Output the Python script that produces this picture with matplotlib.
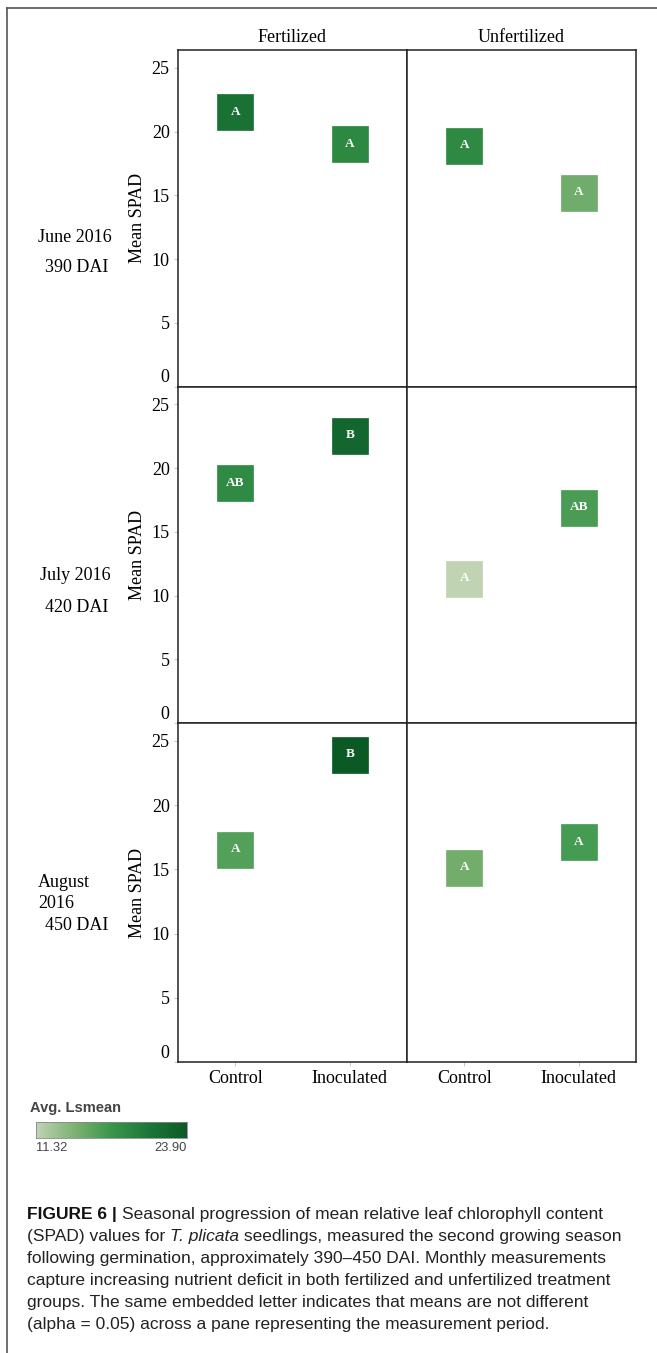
import matplotlib
matplotlib.use("Agg")
import matplotlib.pyplot as plt
from matplotlib.colors import LinearSegmentedColormap, Normalize
from matplotlib.lines import Line2D
import numpy as np

# ---------------- data ----------------
months = ["June 2016", "July 2016", "August\n2016"]
dai = ["390 DAI", "420 DAI", "450 DAI"]
treatments = ["Fertilized", "Unfertilized"]
groups = ["Control", "Inoculated"]

june_fert = [21.5, 19.0]
june_unfert = [18.9, 15.2]
july_fert = [18.8, 22.55]
july_unfert = [11.32, 16.9]
aug_fert = [16.5, 23.90]
aug_unfert = [15.1, 17.1]

june_fert_letters = ["A", "A"]
june_unfert_letters = ["A", "A"]
july_fert_letters = ["AB", "B"]
july_unfert_letters = ["A", "AB"]
aug_fert_letters = ["A", "B"]
aug_unfert_letters = ["A", "A"]

yticks = [0, 5, 10, 15, 20, 25]
cbar_min, cbar_max = 11.32, 23.90

values = [[june_fert, june_unfert], [july_fert, july_unfert], [aug_fert, aug_unfert]]
letters = [[june_fert_letters, june_unfert_letters],
           [july_fert_letters, july_unfert_letters],
           [aug_fert_letters, aug_unfert_letters]]

# ---------------- figure ----------------
W, H = 657, 1353
fig = plt.figure(figsize=(W / 100, H / 100), dpi=100)
serif = "Liberation Serif"
sans = "Liberation Sans"
FS = 13

cmap = LinearSegmentedColormap.from_list(
    "grn", ["#c0d4b4", "#7fb274", "#3a964a", "#1d7838", "#0b5a26"])
norm = Normalize(cbar_min, cbar_max)

def fx(px):
    return px / W

def fy(py):
    return 1 - py / H

col_x = [178, 407, 636]
row_y = [50, 386.5, 723, 1062]

for r in range(3):
    for c in range(2):
        ax = fig.add_axes([fx(col_x[c]), fy(row_y[r + 1]),
                           fx(col_x[c + 1] - col_x[c]), (row_y[r + 1] - row_y[r]) / H])
        vals = values[r][c]
        xs = np.arange(len(groups))
        for xi, v, lab in zip(xs, vals, letters[r][c]):
            ax.plot(xi, v, marker="s", ms=25.5, color=cmap(norm(v)),
                    mec=cmap(norm(v)), mew=0.5, ls="none", zorder=3)
            ax.text(xi, v + 0.05, lab, color="white", ha="center", va="center",
                    fontsize=9.5, fontweight="bold", family=serif, zorder=4)
        ax.set_xlim(-0.5, 1.5)
        ax.set_ylim(0, 26.4)
        for s in ax.spines.values():
            s.set_linewidth(1.1)
            s.set_color("#222222")
        ax.set_yticks(yticks)
        ax.set_xticks(xs)
        if c == 0:
            ax.tick_params(axis="y", length=3, width=0.6, color="#bbbbbb",
                           labelsize=FS, pad=3)
            for t in ax.get_yticklabels():
                t.set_fontfamily(serif)
            ax.get_yticklabels()[0].set_va("bottom")
            ax.set_ylabel("Mean SPAD", family=serif, fontsize=FS, labelpad=4)
        else:
            ax.tick_params(axis="y", left=False, labelleft=False)
        if r == 2:
            ax.set_xticklabels(groups, family=serif, fontsize=FS)
            ax.tick_params(axis="x", length=3, width=0.6, color="#bbbbbb", pad=3)
        else:
            ax.tick_params(axis="x", bottom=False, labelbottom=False)
        if r == 0:
            ax.set_title(treatments[c], family=serif, fontsize=FS, pad=6)

# row labels
fig.text(fx(75), fy(237), months[0], family=serif, fontsize=FS, ha="center", va="center")
fig.text(fx(77), fy(268), dai[0], family=serif, fontsize=FS, ha="center", va="center")
fig.text(fx(75), fy(575), months[1], family=serif, fontsize=FS, ha="center", va="center")
fig.text(fx(77), fy(607), dai[1], family=serif, fontsize=FS, ha="center", va="center")
fig.text(fx(38), fy(893), months[2], family=serif, fontsize=FS, ha="left", va="center",
         linespacing=1.25)
fig.text(fx(45), fy(925), dai[2], family=serif, fontsize=FS, ha="left", va="center")

# outer frame (left + top)
fig.add_artist(Line2D([fx(7), fx(7)], [fy(8), 0], transform=fig.transFigure,
                      color="#555555", lw=1.2))
fig.add_artist(Line2D([fx(7), 1], [fy(8), fy(8)], transform=fig.transFigure,
                      color="#555555", lw=1.2))

# colorbar
cax = fig.add_axes([fx(36), fy(1138), fx(187 - 36), 16 / H])
grad = np.linspace(cbar_min, cbar_max, 256).reshape(1, -1)
cax.imshow(grad, aspect="auto", cmap=cmap, norm=norm,
           extent=[cbar_min, cbar_max, 0, 1])
cax.set_xticks([])
cax.set_yticks([])
for s in cax.spines.values():
    s.set_color("#888888")
    s.set_linewidth(0.6)
fig.text(fx(30), fy(1108), "Avg. Lsmean", family=sans, fontsize=10.5, fontweight="bold",
         color="#444444", ha="left", va="center")
fig.text(fx(36), fy(1148), f"{cbar_min:.2f}", family=sans, fontsize=9.3,
         color="#444444", ha="left", va="center")
fig.text(fx(187), fy(1148), f"{cbar_max:.2f}", family=sans, fontsize=9.3,
         color="#444444", ha="right", va="center")

# caption
cap_fs = 12.5
renderer = fig.canvas.get_renderer()

def seg_line(x_px, y_px, segments):
    x = fx(x_px)
    for txt, style in segments:
        kw = dict(family=sans, fontsize=cap_fs, color="#222222", ha="left",
                  va="baseline")
        if style == "bold":
            kw["fontweight"] = "bold"
            kw["color"] = "#111111"
        if style == "italic":
            kw["fontstyle"] = "italic"
        t = fig.text(x, fy(y_px), txt, **kw)
        bb = t.get_window_extent(renderer=renderer)
        x = bb.x1 / W

cap_lines = [
    [("FIGURE 6 | ", "bold"), ("Seasonal progression of mean relative leaf chlorophyll content", "")],
    [("(SPAD) values for ", ""), ("T. plicata", "italic"), (" seedlings, measured the second growing season", "")],
    [("following germination, approximately 390\u2013450 DAI. Monthly measurements", "")],
    [("capture increasing nutrient deficit in both fertilized and unfertilized treatment", "")],
    [("groups. The same embedded letter indicates that means are not different", "")],
    [("(alpha = 0.05) across a pane representing the measurement period.", "")],
]
for i, segs in enumerate(cap_lines):
    seg_line(27, 1219 + 22 * i, segs)

fig.savefig("out.png", dpi=100)
